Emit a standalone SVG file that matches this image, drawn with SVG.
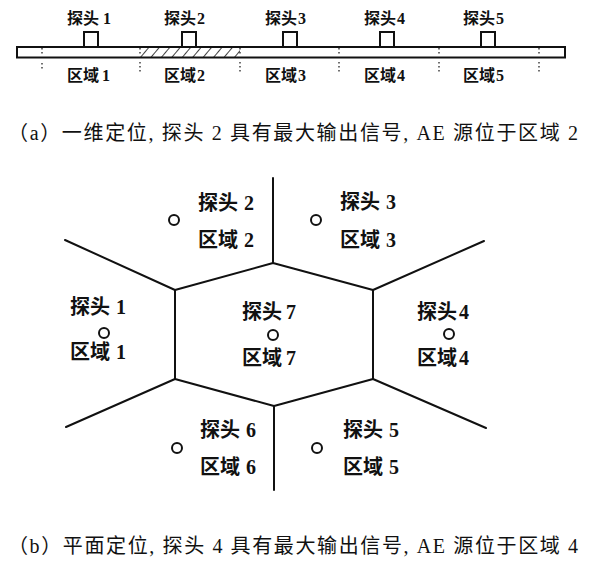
<svg xmlns="http://www.w3.org/2000/svg" width="595" height="564" viewBox="0 0 595 564">
<style>
  .lbl { font-family: "Liberation Serif", "Noto Sans CJK SC", serif; font-weight: 700; fill: #111; }
  .la { font-size: 16px; }
  .lb { font-size: 20px; }
  .cap { font-family: "Liberation Serif", "Noto Sans CJK SC", serif; font-size: 20px; fill: #111; }
  .edge { stroke: #111; stroke-width: 2; fill: none; stroke-linecap: round; stroke-linejoin: round; }
  .probe { fill: #fff; stroke: #111; stroke-width: 2; }
  .dot { stroke: #111; stroke-width: 1.2; stroke-dasharray: 1.5 2.5; }
  .sensor { fill: #fff; stroke: #111; stroke-width: 2; }
</style>
<defs>
  <pattern id="hatch" patternUnits="userSpaceOnUse" width="8" height="8" patternTransform="rotate(40)">
    <line x1="0" y1="0" x2="0" y2="8" stroke="#111" stroke-width="1.6"/>
  </pattern>
</defs>
<rect width="595" height="564" fill="#fff"/>

<!-- Panel (a) -->
<g id="strip">
  <rect x="140" y="47" width="100" height="10.5" fill="url(#hatch)"/>
  <rect x="17" y="47" width="548" height="10.5" fill="none" stroke="#111" stroke-width="2"/>
  <g id="separators">
    <line class="dot" x1="42" y1="48" x2="42" y2="55"/><line class="dot" x1="42" y1="63" x2="42" y2="71"/>
    <line class="dot" x1="140" y1="48" x2="140" y2="55"/><line class="dot" x1="140" y1="62" x2="140" y2="72"/>
    <line class="dot" x1="240" y1="48" x2="240" y2="55"/><line class="dot" x1="240" y1="62" x2="240" y2="72"/>
    <line class="dot" x1="339" y1="48" x2="339" y2="55"/><line class="dot" x1="339" y1="62" x2="339" y2="72"/>
    <line class="dot" x1="439" y1="48" x2="439" y2="55"/><line class="dot" x1="439" y1="62" x2="439" y2="72"/>
    <line class="dot" x1="539" y1="48" x2="539" y2="55"/><line class="dot" x1="539" y1="62" x2="539" y2="72"/>
  </g>
</g>
<g id="a-probe1"><rect class="probe" x="84" y="32" width="14" height="15"/><text class="lbl la" x="67" y="24">探头<tspan dx="4">1</tspan></text><text class="lbl la" x="67" y="81">区域<tspan dx="3">1</tspan></text></g>
<g id="a-probe2"><rect class="probe" x="182" y="32" width="14" height="15"/><text class="lbl la" x="164" y="24">探头<tspan dx="1">2</tspan></text><text class="lbl la" x="164" y="81">区域<tspan dx="1">2</tspan></text></g>
<g id="a-probe3"><rect class="probe" x="283" y="32" width="14" height="15"/><text class="lbl la" x="265" y="24">探头<tspan dx="1">3</tspan></text><text class="lbl la" x="265" y="81">区域<tspan dx="1">3</tspan></text></g>
<g id="a-probe4"><rect class="probe" x="380" y="32" width="14" height="15"/><text class="lbl la" x="364" y="24">探头<tspan dx="1">4</tspan></text><text class="lbl la" x="364" y="81">区域<tspan dx="1">4</tspan></text></g>
<g id="a-probe5"><rect class="probe" x="481" y="32" width="14" height="15"/><text class="lbl la" x="463" y="24">探头<tspan dx="1">5</tspan></text><text class="lbl la" x="463" y="81">区域<tspan dx="1">5</tspan></text></g>

<text class="cap" x="8" y="140" textLength="570" lengthAdjust="spacing">（a）一维定位, 探头 2 具有最大输出信号, AE 源位于区域 2</text>

<!-- Panel (b) -->
<g id="connectors">
  <polygon class="edge" points="273,263 373,290 373,379 274,406 175,379 175,290"/>
  <line class="edge" x1="273" y1="263" x2="273" y2="178"/>
  <line class="edge" x1="175" y1="290" x2="65" y2="240"/>
  <line class="edge" x1="373" y1="290" x2="484" y2="241"/>
  <line class="edge" x1="175" y1="379" x2="66" y2="427"/>
  <line class="edge" x1="373" y1="379" x2="486" y2="428"/>
  <line class="edge" x1="274" y1="406" x2="274" y2="490"/>
</g>
<g id="b-probe1"><circle class="sensor" cx="104" cy="333" r="5"/><text class="lbl lb" x="70" y="314">探头<tspan dx="6">1</tspan></text><text class="lbl lb" x="70" y="359">区域<tspan dx="6">1</tspan></text></g>
<g id="b-probe2"><circle class="sensor" cx="174" cy="220" r="5"/><text class="lbl lb" x="198" y="210">探头<tspan dx="6">2</tspan></text><text class="lbl lb" x="198" y="247">区域<tspan dx="6">2</tspan></text></g>
<g id="b-probe3"><circle class="sensor" cx="316" cy="220" r="5"/><text class="lbl lb" x="340" y="209">探头<tspan dx="6">3</tspan></text><text class="lbl lb" x="340" y="247">区域<tspan dx="6">3</tspan></text></g>
<g id="b-probe4"><circle class="sensor" cx="449" cy="334" r="5"/><text class="lbl lb" x="417" y="319">探头<tspan dx="2">4</tspan></text><text class="lbl lb" x="417" y="365">区域<tspan dx="2">4</tspan></text></g>
<g id="b-probe5"><circle class="sensor" cx="317" cy="448" r="5"/><text class="lbl lb" x="343" y="437">探头<tspan dx="6">5</tspan></text><text class="lbl lb" x="343" y="474">区域<tspan dx="6">5</tspan></text></g>
<g id="b-probe6"><circle class="sensor" cx="177" cy="448" r="5"/><text class="lbl lb" x="200" y="437">探头<tspan dx="6">6</tspan></text><text class="lbl lb" x="200" y="474">区域<tspan dx="6">6</tspan></text></g>
<g id="b-probe7"><circle class="sensor" cx="273" cy="335" r="5"/><text class="lbl lb" x="242" y="319">探头<tspan dx="4">7</tspan></text><text class="lbl lb" x="242" y="365">区域<tspan dx="4">7</tspan></text></g>

<text class="cap" x="8" y="553" textLength="570" lengthAdjust="spacing">（b）平面定位, 探头 4 具有最大输出信号, AE 源位于区域 4</text>
</svg>
